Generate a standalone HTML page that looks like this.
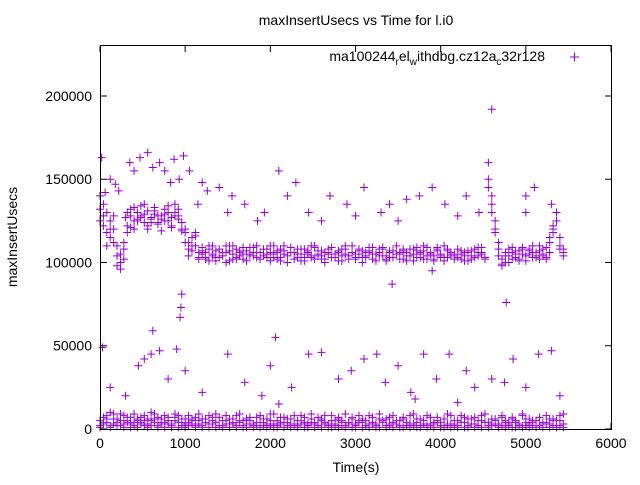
<!DOCTYPE html>
<html><head><meta charset="utf-8"><style>
body{margin:0;background:#fff}
svg{font-family:"Liberation Sans",sans-serif;font-size:14px}
</style></head><body>
<svg id="c" width="640" height="480" xmlns="http://www.w3.org/2000/svg">
<rect width="640" height="480" fill="#fff"/>
<text x="356" y="25" text-anchor="middle">maxInsertUsecs vs Time for l.i0</text>
<text x="356" y="472" text-anchor="middle">Time(s)</text>
<text transform="translate(17,237) rotate(-90)" text-anchor="middle">maxInsertUsecs</text>
<g id="axes"></g>
<g id="marks" stroke="#9400d3" stroke-width="1" fill="none"></g>
<rect x="100.5" y="45.5" width="511" height="384" fill="none" stroke="#000"/>
<g>
<text x="545" y="61" text-anchor="end">ma100244<tspan font-size="10" dy="4">r</tspan><tspan dy="-4">el</tspan><tspan font-size="10" dy="4">w</tspan><tspan dy="-4">ithdbg.cz12a</tspan><tspan font-size="10" dy="4">c</tspan><tspan dy="-4">32r128</tspan></text>
<path d="M570,57h9M574.5,52.5v9" stroke="#9400d3"/>
</g>
</svg>
<script>
const xTicks=[0,1000,2000,3000,4000,5000,6000];
const yTicks=[0,50000,100000,150000,200000];
const bandT=[0,40,80,120,160,200,240,280,320,360,400,440,480,520,560,600,640,680,720,760,800,840,880,920,960,1000,1040,1080,1120,1160,1200,1240,1280,1320,1360,1400,1440,1480,1520,1560,1600,1640,1680,1720,1760,1800,1840,1880,1920,1960,2000,2040,2080,2120,2160,2200,2240,2280,2320,2360,2400,2440,2480,2520,2560,2600,2640,2680,2720,2760,2800,2840,2880,2920,2960,3000,3040,3080,3120,3160,3200,3240,3280,3320,3360,3400,3440,3480,3520,3560,3600,3640,3680,3720,3760,3800,3840,3880,3920,3960,4000,4040,4080,4120,4160,4200,4240,4280,4320,4360,4400,4440,4480,4520,4560,4600,4640,4680,4720,4760,4800,4840,4880,4920,4960,5000,5040,5080,5120,5160,5200,5240,5280,5320,5360,5400,5440];
const hi1=[140,128,118,125,112,104,100,108,122,128,125,130,127,124,131,126,129,123,128,132,125,127,130,126,124,112,108,115,110,106,
105,102,108,104,107,103,106,110,101,105,108,104,102,107,105,109,103,106,104,108,101,105,107,103,110,104,106,102,108,105,103,107,104,109,105,102,106,108,103,105,107,104,110,102,106,105,108,103,104,107,105,101,106,109,104,103,107,105,102,108,106,104,105,109,103,107,104,106,102,108,105,103,107,104,105,103,107,104,106,102,108,104,106,103,
150,140,125,108,102,100,104,106,103,107,105,104,108,106,103,107,105,109,112,118,125,110,106];
const hi2=[125,135,110,120,128,98,105,112,118,132,120,126,134,129,120,124,133,128,119,125,130,122,135,128,120,118,104,110,116,102,
109,106,101,110,103,108,104,100,107,110,102,106,109,101,104,106,110,102,108,103,106,110,102,108,105,100,109,106,103,101,108,105,110,102,107,104,100,106,109,103,101,108,105,102,110,103,107,100,106,109,102,105,108,104,101,107,103,110,106,102,104,108,101,107,105,110,102,106,104,109,103,101,108,105,104,108,102,106,101,107,103,109,105,102,
160,130,118,112,98,104,100,109,107,102,108,101,105,110,104,102,108,103,106,120,130,115,108];
const hi3=[132,122,130,115,120,110,96,102,130,121,133,125,128,135,122,127,131,124,126,129,134,121,128,132,119,120,112,107,118,103,
107,103,110,105,101,108,104,106,110,102,103,107,105,101,109,104,106,102,108,105,110,103,106,101,107,104,109,102,105,108,101,106,103,110,104,107,102,105,109,103,106,101,108,104,110,102,105,107,103,106,109,101,104,108,102,106,103,110,105,107,101,104,108,103,106,102,109,105,101,107,104,110,103,106,102,108,105,101,107,104,103,106,109,102,
145,135,120,104,99,106,108,102,105,101,109,104,107,103,106,110,104,102,115,122,130,108,104];
const lo1=[5,3,8,2,6,4,9,3,5,7,2,6,4,8,3,5,9,2,6,4,7,3,5,8,2,6,4,3,7,5,2,6,8,3,4,7,2,5,6,3,8,4,2,6,5,3,7,4,2,6,9,3,5,4,7,2,6,3,5,8,4,2,6,3,7,5,4,2,8,3,6,5,2,4,7,3,5,6,2,8,4,3,6,5,2,7,4,3,5,6,2,8,3,4,6,5,2,7,3,5,4,6,2,8,3,5,4,7,2,6,3,5,8,4,2,6,5,3,7,4,2,6,5,3,8,4,6,2,5,7,3,4,6,2,5,8,3];
const lo2=[2,7,4,10,3,6,2,8,4,3,9,5,7,2,6,10,4,7,3,8,5,2,9,4,6,3,8,5,2,9,6,4,3,7,9,2,5,8,3,6,2,9,5,3,7,2,4,8,6,3,5,9,2,7,4,6,3,8,2,5,7,3,9,4,2,6,8,3,5,2,7,4,9,3,6,2,8,4,5,3,7,2,9,4,6,3,8,5,2,7,4,3,9,6,2,5,8,3,4,7,2,6,9,3,5,2,8,4,6,3,7,2,5,9,4,3,6,2,8,5,3,7,4,2,9,6,3,5,2,7,4,8,3,6,2,5,9];
const lo3=[1,4,6,1,9,2,5,1,7,1,4,1,3,5,1,2,6,1,4,1,3,1,7,1,4,1,2,6,1,3,1,4,1,5,1,2,1,3,1,4,1,5,1,1,3,1,2,1,4,1,2,1,1,3,1,4,1,2,1,3,1,1,4,1,2,1,3,1,1,5,1,2,1,3,1,1,4,1,2,1,3,1,1,4,1,2,1,3,1,1,4,1,2,1,1,3,1,2,1,4,1,1,3,1,2,1,4,1,1,3,1,2,1,4,1,2,3,1,2,1,4,1,1,3,1,2,1,4,1,2,1,3,1,5,1,2,1];
const outT=[20,60,120,180,220,300,350,400,470,560,620,700,760,830,870,930,980,1050,1150,1200,1260,1400,1500,1550,1700,1850,1930,2100,2200,2300,2450,2600,2700,2900,3000,3100,3300,3400,3500,3600,3750,3900,4050,4200,4300,4450,4600,5000,5100,5300,960,950,940,620,2060,3430,4770,3900,5000,30,120,300,450,520,600,700,800,900,1000,1200,1500,1700,1900,2000,2250,2450,2600,2800,2950,3100,3250,3350,3500,3650,3800,3950,4100,4300,4400,4600,4750,4850,5000,5150,5300,5400,3700,2100,4200];
const outV=[163,142,150,147,143,127,160,155,163,166,157,160,155,148,162,150,164,155,135,148,143,145,130,140,135,125,130,155,140,148,130,125,140,135,128,145,130,135,125,138,140,145,135,128,140,130,192,140,145,135,81,73,67,59,55,87,76,95,130,49,25,20,38,42,45,47,30,48,35,22,45,28,20,38,25,45,46,30,35,42,45,28,38,22,45,30,45,35,25,30,28,42,25,45,47,20,18,15,16];
const X=v=>100+v*(511/6000), Y=v=>429-v*(383/230000);
const NS='http://www.w3.org/2000/svg';
const ax=document.getElementById('axes'), mk=document.getElementById('marks');
function el(t,a,p){const e=document.createElementNS(NS,t);for(const k in a)e.setAttribute(k,a[k]);p.appendChild(e);return e;}
xTicks.forEach(v=>{const x=X(v);
 const g=el('path',{d:`M${x},429v-6M${x},46v6`,stroke:'#000'},ax);
 
 
 const t=el('text',{x:x,y:448,'text-anchor':'middle'},ax);t.textContent=v;
 
 });
yTicks.forEach(v=>{const y=Y(v);
 const g=el('path',{d:`M101,${y}h6M611,${y}h-6`,stroke:'#000'},ax);
 
 
 const t=el('text',{x:92,y:y+5,'text-anchor':'end'},ax);t.textContent=v;
 
 });
let d='';
function add(ts,vs){const n=Math.min(ts.length,vs.length);for(let i=0;i<n;i++){const x=X(ts[i]),y=Y(vs[i]*1000);d+=`M${x-4},${y}h8M${x},${y-4}v8`;}}
add(bandT,hi1);add(bandT,hi2);add(bandT,hi3);add(bandT,lo1);add(bandT,lo2);add(bandT,lo3);add(outT,outV);
const p=el('path',{d:d},mk);


</script>
</body></html>
